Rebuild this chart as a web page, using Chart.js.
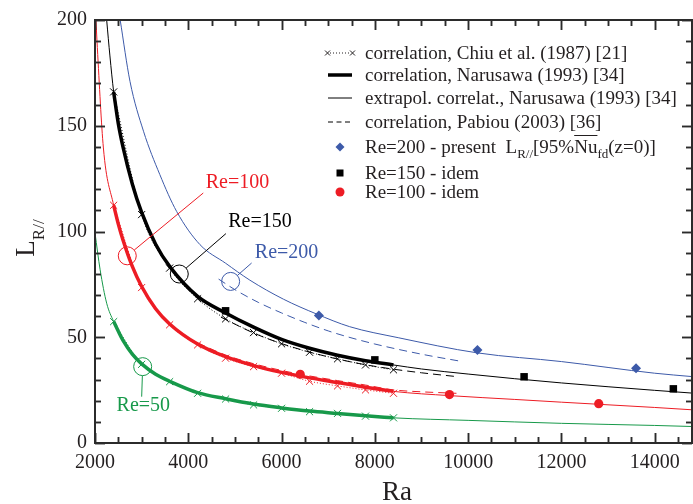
<!DOCTYPE html>
<html>
<head>
<meta charset="utf-8">
<script src="https://cdn.jsdelivr.net/npm/chart.js@4.4.0/dist/chart.umd.min.js"></script>
<style>
  body { margin: 0; background: #fff; }
  #wrap { position: relative; width: 693px; height: 504px; font-family: "Liberation Serif", "Times New Roman", serif; color: #231f20; }
  #wrap canvas, #frame { position: absolute; left: 0; top: 0; }
  #frame { pointer-events: none; }
  .row { position: absolute; left: 322px; height: 24px; display: flex; align-items: center; font-size: 19px; white-space: nowrap; }
  .row svg { width: 40px; height: 24px; margin-right: 3px; flex: none; }
  .row sub { font-size: 13px; vertical-align: -5px; line-height: 0; }
  .over { text-decoration: overline; }
  #ytitle { position: absolute; left: 25px; top: 238px; transform: translate(-50%, -50%) rotate(-90deg); font-size: 27px; white-space: nowrap; }
  #ytitle sub { font-size: 17px; vertical-align: -10px; line-height: 0; }
  #xtitle { position: absolute; left: 397px; top: 491px; transform: translate(-50%, -50%); font-size: 27px; }
</style>
</head>
<body>
<div id="wrap">
  <canvas id="myChart" width="693" height="504"></canvas>
  <svg id="frame" width="693" height="504"></svg>

  <div class="row" style="top:41px">
    <svg viewBox="0 0 40 24"><g stroke="#231f20" stroke-width="1"><path d="M3 9.5l5 5M8 9.5l-5 5M28 9.5l5 5M33 9.5l-5 5"/><line x1="8" y1="12" x2="28" y2="12" stroke-dasharray="1,2"/></g></svg>
    <span>correlation, Chiu et al. (1987) [21]</span>
  </div>
  <div class="row" style="top:63px">
    <svg viewBox="0 0 40 24"><line x1="6" y1="12" x2="30" y2="12" stroke="#000" stroke-width="3.5"/></svg>
    <span>correlation, Narusawa (1993) [34]</span>
  </div>
  <div class="row" style="top:86px">
    <svg viewBox="0 0 40 24"><line x1="6" y1="12" x2="30" y2="12" stroke="#000" stroke-width="1"/></svg>
    <span>extrapol. correlat., Narusawa (1993) [34]</span>
  </div>
  <div class="row" style="top:110px">
    <svg viewBox="0 0 40 24"><line x1="6" y1="12" x2="30" y2="12" stroke="#000" stroke-width="1" stroke-dasharray="5,3.5"/></svg>
    <span>correlation, Pabiou (2003) [36]</span>
  </div>
  <div class="row" style="top:135px">
    <svg viewBox="0 0 40 24"><path d="M18 7.5l4.5 4.5-4.5 4.5-4.5-4.5z" fill="#3d5aa9"/></svg>
    <span>Re=200 - present&nbsp; L<sub>R//</sub>[95%<span class="over">Nu</span><sub>fd</sub>(z=0)]</span>
  </div>
  <div class="row" style="top:161px">
    <svg viewBox="0 0 40 24"><rect x="14.5" y="8.5" width="7" height="7" fill="#000"/></svg>
    <span>Re=150 - idem</span>
  </div>
  <div class="row" style="top:180px">
    <svg viewBox="0 0 40 24"><circle cx="18" cy="12" r="4.5" fill="#ed1c24"/></svg>
    <span>Re=100 - idem</span>
  </div>

  <div id="ytitle">L<sub>R//</sub></div>
  <div id="xtitle">Ra</div>
</div>

<script>
// Оси
const xTicks = [2000, 4000, 6000, 8000, 10000, 12000, 14000];
const yTicks = [0, 50, 100, 150, 200];

// Корреляция Chiu et al. (1987) — крестики
const raChiu = [2400, 3000, 3600, 4200, 4800, 5400, 6000, 6600, 7200, 7800, 8400];
const chiuRe150 = [166, 108, 82.7, 68.2, 58.7, 52.2, 46.9, 42.9, 39.8, 36.9, 34.6];
const chiuRe100 = [112.4, 73.5, 55.9, 46.4, 40.1, 36.1, 33, 29.2, 27, 25.1, 23.5];
const chiuRe50 = [57.4, 37.2, 29, 23.5, 20.8, 18, 16.4, 14.8, 14, 12.7, 11.9];

// Корреляция Narusawa (1993) — толстые линии
const raNar = [2400, 2500, 2600, 2800, 3000, 3300, 3600, 4200, 4800, 5400, 6000, 6600, 7200, 7800, 8400];
const narRe150 = [166, 151, 140, 122.5, 109, 94, 83.5, 69.3, 61.5, 54.8, 49, 44.8, 41.5, 38.9, 36.9];
const narRe100 = [112.4, 103.5, 96, 83.5, 74, 63.5, 56.3, 46.8, 40.8, 36.6, 33.4, 30.8, 28.6, 26.4, 24.4];
const narRe50 = [57.4, 52.8, 48.5, 42, 37.4, 32.5, 29.2, 23.8, 20.9, 18.4, 16.6, 15.1, 14, 12.9, 11.9];

// Экстраполяция Narusawa — тонкие линии
const raExt200 = [2540, 2750, 3040, 3390, 3750, 4250, 4800, 5320, 6040, 6750, 7460, 8500, 10200, 12000, 14000, 14800];
const extRe200 = [200, 171, 147.4, 126.9, 109.5, 93.8, 85, 77, 68, 61, 55, 49.8, 42.6, 38.5, 33, 31.4];
const raExt150 = [2250, 2320, 2400, 2500, 2600, 2800, 3000, 3300, 3600, 4200, 4800, 5400, 6000, 6600, 7200, 7800, 8400, 9000, 10000, 11000, 12000, 13000, 14000, 14800];
const extRe150 = [200, 183, 166, 151, 140, 122.5, 109, 94, 83.5, 69.3, 61.5, 54.8, 49, 44.8, 41.5, 38.9, 36.9, 35, 32.6, 30.4, 28.4, 26.6, 24.9, 23.6];
const raExt100 = [2020, 2050, 2180, 2400, 2500, 2600, 2800, 3000, 3300, 3600, 4200, 4800, 5400, 6000, 6600, 7200, 7800, 8400, 9600, 11000, 12000, 12800, 14000, 14800];
const extRe100 = [200, 187, 139.5, 112.4, 103.5, 96, 83.5, 74, 63.5, 56.3, 46.8, 40.8, 36.6, 33.4, 30.8, 28.6, 26.4, 24.4, 22.4, 20.6, 19.3, 18.3, 16.8, 15.7];
const raExt50 = [2000, 2110, 2250, 2400, 2500, 2600, 2800, 3000, 3300, 3600, 4200, 4800, 5400, 6000, 6600, 7200, 7800, 8400, 10000, 12000, 14000, 14800];
const extRe50 = [99.3, 81.9, 66.1, 57.4, 52.8, 48.5, 42, 37.4, 32.5, 29.2, 23.8, 20.9, 18.4, 16.6, 15.1, 14, 12.9, 11.9, 10.7, 9.3, 8.3, 7.8];

// Корреляция Pabiou (2003) — пунктир
const raPab200 = [4650, 5000, 5500, 6000, 6500, 7000, 7400, 8000, 9000, 9800];
const pabRe200 = [77.5, 72.5, 66.5, 61.5, 57, 53, 50.3, 46.8, 42, 38.8];
const raPab150 = [4700, 5400, 6000, 6600, 7200, 7800, 8400, 9000, 9750];
const pabRe150 = [59.5, 52, 47, 43, 39.7, 37, 34.9, 33.2, 31.4];
const raPab100 = [4200, 4800, 5400, 6000, 6600, 7200, 7800, 8400, 9000, 9750];
const pabRe100 = [47.3, 41.6, 37.5, 34.3, 31.7, 29.5, 27.4, 25.1, 24.2, 23.5];

// Настоящая работа — маркеры
const raPresent200 = [6800, 10200, 13600];
const presentRe200 = [60.3, 44, 35.4];
const raPresent150 = [4800, 8000, 11200, 14400];
const presentRe150 = [62.5, 39.3, 31.3, 25.6];
const raPresent100 = [6400, 9600, 12800];
const presentRe100 = [32.5, 22.9, 18.6];

// Подписи Re с кружками и выносками (в единицах данных)
const reNotes = [
    { text: 'Re=100', color: '#ed1c24', circle: [2692, 88.5], end: [4321, 118.2], label: [5054, 123.1] },
    { text: 'Re=150', color: '#000000', circle: [3807, 79.9], end: [4807, 99], label: [5536, 104.8] },
    { text: 'Re=200', color: '#3d5aa9', circle: [4908, 76.4], end: [5358, 85.1], label: [6107, 89.8] },
    { text: 'Re=50', color: '#17994a', circle: [3022, 36.1], end: [3001, 21.9], label: [3036, 17.4] }
];

const RED = '#ed1c24';
const GREEN = '#17994a';
const BLUE = '#3d5aa9';
const BLACK = '#000000';
const FONT = '"Liberation Serif", "Times New Roman", serif';

const pts = (xs, ys) => xs.map((v, i) => ({ x: v, y: ys[i] }));

function curve(xs, ys, color, width, dash) {
    return {
        data: pts(xs, ys),
        borderColor: color,
        borderWidth: width,
        borderDash: dash || [],
        pointRadius: 0,
        cubicInterpolationMode: 'monotone',
        fill: false
    };
}

function chiu(xs, ys, color) {
    return {
        data: pts(xs, ys),
        borderColor: color,
        borderWidth: 1,
        borderDash: [1, 2],
        pointStyle: 'crossRot',
        pointRadius: 5,
        pointBorderWidth: 1,
        pointBorderColor: color,
        cubicInterpolationMode: 'monotone',
        fill: false
    };
}

function markers(xs, ys, color, style, r) {
    return {
        data: pts(xs, ys),
        showLine: false,
        pointStyle: style,
        pointRadius: r,
        pointBackgroundColor: color,
        pointBorderColor: color,
        pointBorderWidth: 0
    };
}

// Засечки внутрь на всех четырёх сторонах: список отрезков по шкалам
function frameSegments(chart) {
    const { chartArea: a, scales: { x, y } } = chart;
    const segs = [];
    for (let v = 2000; v < 14800; v += 500) {
        const px = Math.round(x.getPixelForValue(v)) + 0.5;
        const len = v % 2000 === 0 ? 10 : 6;
        segs.push([px, a.bottom, px, a.bottom - len], [px, a.top, px, a.top + len]);
    }
    for (let v = 0; v <= 200; v += 10) {
        const py = Math.round(y.getPixelForValue(v)) + 0.5;
        const len = v % 50 === 0 ? 10 : 6;
        segs.push([a.left, py, a.left + len, py], [a.right, py, a.right - len, py]);
    }
    return segs;
}

// Рамка: на холсте и дублем в SVG поверх
const frameTicks = {
    id: 'frameTicks',
    afterDraw(chart) {
        const { ctx, chartArea: a } = chart;
        ctx.save();
        ctx.setLineDash([]);
        ctx.strokeStyle = '#2b2b2b';
        ctx.lineWidth = 1.5;
        ctx.beginPath();
        frameSegments(chart).forEach(s => { ctx.moveTo(s[0], s[1]); ctx.lineTo(s[2], s[3]); });
        ctx.stroke();
        ctx.lineWidth = 2;
        ctx.strokeRect(a.left, a.top, a.right - a.left, a.bottom - a.top);
        ctx.restore();
    },
    afterRender(chart) {
        const a = chart.chartArea;
        const lines = frameSegments(chart)
            .map(s => `<line x1="${s[0]}" y1="${s[1]}" x2="${s[2]}" y2="${s[3]}"/>`).join('');
        document.getElementById('frame').innerHTML =
            `<g stroke="#2b2b2b" stroke-width="1.5" fill="none">${lines}` +
            `<rect x="${a.left}" y="${a.top}" width="${a.right - a.left}" height="${a.bottom - a.top}" stroke-width="2"/></g>`;
    }
};

// Кружки, выноски и подписи Re
const reLabels = {
    id: 'reLabels',
    afterDatasetsDraw(chart) {
        const { ctx, scales: { x, y } } = chart;
        const r = 9;
        ctx.save();
        ctx.setLineDash([]);
        ctx.lineWidth = 1;
        ctx.font = '20px ' + FONT;
        ctx.textAlign = 'center';
        ctx.textBaseline = 'middle';
        reNotes.forEach(n => {
            const cx = x.getPixelForValue(n.circle[0]);
            const cy = y.getPixelForValue(n.circle[1]);
            const ex = x.getPixelForValue(n.end[0]);
            const ey = y.getPixelForValue(n.end[1]);
            const d = Math.hypot(ex - cx, ey - cy);
            ctx.strokeStyle = n.color;
            ctx.beginPath();
            ctx.arc(cx, cy, r, 0, Math.PI * 2);
            ctx.stroke();
            ctx.beginPath();
            ctx.moveTo(cx + (ex - cx) / d * r, cy + (ey - cy) / d * r);
            ctx.lineTo(ex, ey);
            ctx.stroke();
            ctx.fillStyle = n.color;
            ctx.fillText(n.text, x.getPixelForValue(n.label[0]), y.getPixelForValue(n.label[1]));
        });
        ctx.restore();
    }
};

new Chart(document.getElementById('myChart'), {
    type: 'line',
    data: {
        datasets: [
            markers(raPresent200, presentRe200, BLUE, 'rectRot', 5),
            markers(raPresent150, presentRe150, BLACK, 'rect', 5.3),
            markers(raPresent100, presentRe100, RED, 'circle', 4.6),
            chiu(raChiu, chiuRe150, BLACK),
            chiu(raChiu, chiuRe100, RED),
            chiu(raChiu, chiuRe50, GREEN),
            curve(raNar, narRe150, BLACK, 3.5),
            curve(raNar, narRe100, RED, 3.5),
            curve(raNar, narRe50, GREEN, 3.5),
            curve(raPab200, pabRe200, BLUE, 1, [8, 5]),
            curve(raPab150, pabRe150, BLACK, 1, [8, 5]),
            curve(raPab100, pabRe100, RED, 1, [8, 5]),
            curve(raExt200, extRe200, BLUE, 1),
            curve(raExt150, extRe150, BLACK, 1),
            curve(raExt100, extRe100, RED, 1),
            curve(raExt50, extRe50, GREEN, 1)
        ]
    },
    options: {
        responsive: false,
        animation: false,
        events: [],
        layout: { autoPadding: false, padding: { top: 20, right: 1, left: 0, bottom: 0 } },
        plugins: {
            legend: { display: false },
            tooltip: { enabled: false }
        },
        scales: {
            x: {
                type: 'linear',
                min: 2000,
                max: 14800,
                afterBuildTicks: s => { s.ticks = xTicks.map(v => ({ value: v })); },
                afterFit: s => { s.height = 61; },
                grid: { display: false, drawTicks: false },
                border: { display: false },
                ticks: {
                    font: { family: FONT, size: 20 },
                    color: '#231f20',
                    padding: 8,
                    maxRotation: 0,
                    autoSkip: false,
                    callback: v => String(v)
                }
            },
            y: {
                min: 0,
                max: 200,
                afterBuildTicks: s => { s.ticks = yTicks.map(v => ({ value: v })); },
                afterFit: s => { s.width = 95; },
                grid: { display: false, drawTicks: false },
                border: { display: false },
                ticks: {
                    font: { family: FONT, size: 20 },
                    color: '#231f20',
                    padding: 8
                }
            }
        }
    },
    plugins: [frameTicks, reLabels]
});
</script>
</body>
</html>
